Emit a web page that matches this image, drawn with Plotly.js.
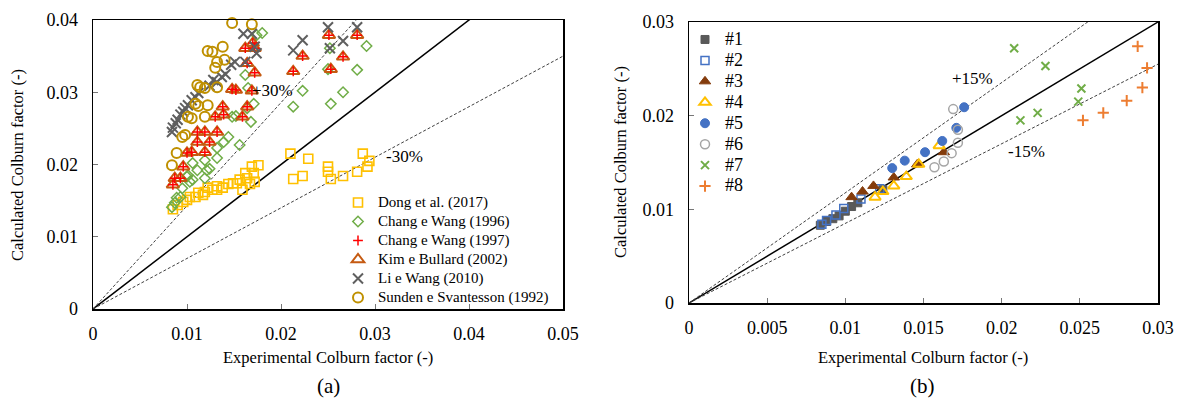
<!DOCTYPE html>
<html><head><meta charset="utf-8">
<script src="https://cdn.plot.ly/plotly-3.0.1.min.js"></script>
<style>html,body{margin:0;padding:0;background:#fff}#chart{width:1179px;height:401px}</style>
</head><body><div id="chart"></div>
<script>
// ---------- Panel (a) data ----------
const dongX = [0.0085,0.0090,0.0096,0.0100,0.0103,0.0109,0.0112,0.0117,0.0119,0.0122,0.0127,0.0132,0.0132,0.0138,0.0144,0.0149,0.0153,0.0156,0.0159,0.0162,0.0164,0.0167,0.0169,0.0171,0.0172,0.0176,0.0210,0.0213,0.0223,0.0229,0.0250,0.0250,0.0253,0.0266,0.0281,0.0287,0.0294,0.0292];
const dongY = [0.0138,0.0144,0.0148,0.0151,0.0155,0.0155,0.0161,0.0158,0.0162,0.0168,0.0165,0.0165,0.0170,0.0168,0.0173,0.0174,0.0174,0.0179,0.0165,0.0188,0.0181,0.0173,0.0197,0.0188,0.0176,0.0199,0.0215,0.0180,0.0184,0.0208,0.0197,0.0190,0.0180,0.0184,0.0190,0.0215,0.0205,0.0197];
const chang96X = [0.0084,0.0087,0.0089,0.0093,0.0095,0.0100,0.0101,0.0103,0.0106,0.0106,0.0111,0.0119,0.0119,0.0121,0.0124,0.0132,0.0132,0.0139,0.0144,0.0148,0.0152,0.0156,0.0164,0.0168,0.0171,0.0162,0.0165,0.0180,0.0174,0.0213,0.0223,0.0250,0.0252,0.0253,0.0266,0.0281,0.0291];
const chang96Y = [0.0141,0.0147,0.0154,0.0155,0.0167,0.0183,0.0185,0.0176,0.0179,0.0202,0.0192,0.0206,0.0181,0.0192,0.0194,0.0223,0.0209,0.0231,0.0238,0.0266,0.0267,0.0227,0.0278,0.0259,0.0284,0.0324,0.0306,0.0382,0.0379,0.0280,0.0302,0.0332,0.0361,0.0284,0.0300,0.0331,0.0364];
const chang97X = [0.0085,0.0087,0.0093,0.0096,0.0100,0.0105,0.0111,0.0111,0.0119,0.0119,0.0124,0.0132,0.0130,0.0139,0.0138,0.0148,0.0152,0.0159,0.0164,0.0169,0.0164,0.0172,0.0162,0.0170,0.0172,0.0213,0.0223,0.0251,0.0253,0.0266,0.0281];
const chang97Y = [0.0172,0.0181,0.0181,0.0197,0.0216,0.0217,0.0245,0.0231,0.0245,0.0217,0.0231,0.0245,0.0266,0.0269,0.0280,0.0304,0.0303,0.0266,0.0280,0.0302,0.0340,0.0327,0.0361,0.0368,0.0361,0.0329,0.0350,0.0379,0.0332,0.0349,0.0379];
const kimX = [0.0085,0.0087,0.0093,0.0096,0.0100,0.0105,0.0111,0.0111,0.0119,0.0119,0.0124,0.0132,0.0130,0.0139,0.0138,0.0148,0.0152,0.0159,0.0164,0.0169,0.0164,0.0172,0.0162,0.0170,0.0172,0.0213,0.0223,0.0251,0.0253,0.0266,0.0281];
const kimY = [0.0172,0.0181,0.0181,0.0197,0.0216,0.0217,0.0245,0.0231,0.0245,0.0217,0.0231,0.0245,0.0266,0.0269,0.0280,0.0304,0.0303,0.0266,0.0280,0.0302,0.0340,0.0327,0.0361,0.0368,0.0361,0.0329,0.0350,0.0379,0.0332,0.0349,0.0379];
const liX = [0.0084,0.0085,0.0088,0.0090,0.0093,0.0096,0.0098,0.0101,0.0105,0.0109,0.0112,0.0124,0.0128,0.0132,0.0137,0.0141,0.0147,0.0151,0.0162,0.0160,0.0169,0.0172,0.0174,0.0213,0.0223,0.0250,0.0252,0.0266,0.0281];
const liY = [0.0245,0.0251,0.0257,0.0262,0.0269,0.0273,0.0278,0.0282,0.0289,0.0293,0.0299,0.0309,0.0317,0.0314,0.0321,0.0325,0.0338,0.0342,0.0342,0.0381,0.0381,0.0363,0.0354,0.0358,0.0372,0.0390,0.0361,0.0371,0.0390];
const sundenX = [0.0084,0.0089,0.0095,0.0098,0.0101,0.0105,0.0109,0.0112,0.0119,0.0122,0.0111,0.0114,0.0119,0.0132,0.0130,0.0132,0.0140,0.0122,0.0127,0.0138,0.0148,0.0169];
const sundenY = [0.0199,0.0216,0.0238,0.0241,0.0266,0.0264,0.0284,0.0281,0.0266,0.0282,0.0310,0.0307,0.0306,0.0307,0.0334,0.0342,0.0345,0.0357,0.0356,0.0363,0.0396,0.0394];

// ---------- Panel (b) data ----------
const c1X = [0.0084,0.0088,0.0092,0.0096,0.0100,0.0104,0.0108,0.0124];
const c1Y = [0.0083,0.0087,0.0090,0.0093,0.0098,0.0103,0.0107,0.0121];
const c2X = [0.0085,0.0088,0.0094,0.0099,0.0110,0.0122];
const c2Y = [0.0084,0.0088,0.0094,0.0101,0.0111,0.0122];
const c3X = [0.0104,0.0111,0.0118,0.0131,0.0146,0.0163];
const c3Y = [0.0113,0.0119,0.0125,0.0134,0.0148,0.0161];
const c4X = [0.0119,0.0124,0.0131,0.0139,0.0147,0.0160];
const c4Y = [0.0113,0.0119,0.0125,0.0135,0.0148,0.0168];
const c5X = [0.0130,0.0138,0.0151,0.0162,0.0171,0.0176];
const c5Y = [0.0144,0.0152,0.0161,0.0173,0.0187,0.0209];
const c6X = [0.0157,0.0163,0.0168,0.0172,0.0172,0.0169];
const c6Y = [0.0145,0.0151,0.0160,0.0171,0.0185,0.0207];
const c7X = [0.0208,0.0228,0.0251,0.0249,0.0223,0.0212];
const c7Y = [0.0272,0.0253,0.0229,0.0215,0.0203,0.0195];
const c8X = [0.0287,0.0293,0.0290,0.0280,0.0265,0.0252];
const c8Y = [0.0274,0.0251,0.0230,0.0216,0.0203,0.0195];

// reference lines (y = k * x)
const refAX = [0, 0.05];
const refAK = [1, 1/0.7, 0.7];
const refBX = [0, 0.03];
const refBK = [1, 1/0.85, 0.85];

const W = 1179, H = 401;
const px = v => v / W, py = v => 1 - v / H;
const FONT = 'Liberation Serif, Times New Roman, serif';

function refLines(xs, ks, xa, ya) {
  return ks.map((k, i) => ({
    type: 'scatter', mode: 'lines', x: xs, y: xs.map(v => v * k),
    xaxis: xa, yaxis: ya, showlegend: false, hoverinfo: 'skip',
    line: i === 0 ? {color: '#000', width: 1.5} : {color: '#404040', width: 1, dash: '3px,2px'}
  }));
}
function pts(x, y, name, symbol, color, size, lw, xa, ya, legend, rank) {
  return {
    type: 'scatter', mode: 'markers', x, y, name, xaxis: xa, yaxis: ya,
    legend, legendrank: rank, cliponaxis: false,
    marker: {symbol, size, color: color, line: {color: color, width: lw}}
  };
}
const LA = s => '<span style="font-size:15px">' + s + '</span>';
const LB = s => '<span style="font-size:18px">' + s + '</span>';

const data = [
  ...refLines(refAX, refAK, 'x', 'y'),
  ...refLines(refBX, refBK, 'x2', 'y2'),
  pts(dongX, dongY, LA('Dong et al. (2017)'), 'square-open', '#FFC000', 9, 1.6, 'x', 'y', 'legend', 1),
  pts(chang96X, chang96Y, LA('Chang e Wang (1996)'), 'diamond-open', '#70AD47', 8, 1.5, 'x', 'y', 'legend', 2),
  pts(kimX, kimY, LA('Kim e Bullard (2002)'), 'triangle-up-open', '#C55A11', 11, 2, 'x', 'y', 'legend', 4),
  pts(chang97X, chang97Y, LA('Chang e Wang (1997)'), 'cross-thin-open', '#FF0000', 7, 1.5, 'x', 'y', 'legend', 3),
  pts(liX, liY, LA('Li e Wang (2010)'), 'x-thin-open', '#5F5F5F', 10, 2, 'x', 'y', 'legend', 5),
  pts(sundenX, sundenY, LA('Sunden e Svantesson (1992)'), 'circle-open', '#BF9000', 10, 2, 'x', 'y', 'legend', 6),
  pts(c1X, c1Y, LB('#1'), 'square', '#595959', 8, 1, 'x2', 'y2', 'legend2', 1),
  pts(c2X, c2Y, LB('#2'), 'square-open', '#4472C4', 8, 1.5, 'x2', 'y2', 'legend2', 2),
  pts(c3X, c3Y, LB('#3'), 'triangle-up', '#843C0C', 10, 1, 'x2', 'y2', 'legend2', 3),
  pts(c4X, c4Y, LB('#4'), 'triangle-up-open', '#FFC000', 10, 2, 'x2', 'y2', 'legend2', 4),
  pts(c5X, c5Y, LB('#5'), 'circle', '#4472C4', 9, 1, 'x2', 'y2', 'legend2', 5),
  pts(c6X, c6Y, LB('#6'), 'circle-open', '#A5A5A5', 9, 1.5, 'x2', 'y2', 'legend2', 6),
  pts(c7X, c7Y, LB('#7'), 'x-thin-open', '#70AD47', 8, 2, 'x2', 'y2', 'legend2', 7),
  pts(c8X, c8Y, LB('#8'), 'cross-thin-open', '#ED7D31', 8, 2, 'x2', 'y2', 'legend2', 8)
];

const axisBase = {
  showgrid: false, zeroline: false, showline: true, mirror: true,
  linecolor: '#000', linewidth: 1.5, ticks: 'inside', ticklen: 5, tickwidth: 1, tickcolor: '#777',
  tickfont: {family: FONT, size: 18, color: '#000'}, fixedrange: true
};

const layout = {
  width: W, height: H, margin: {l: 0, r: 0, t: 0, b: 0},
  paper_bgcolor: '#fff', plot_bgcolor: '#fff',
  font: {family: FONT, color: '#000'},
  xaxis: Object.assign({}, axisBase, {domain: [px(93), px(563)], range: [0, 0.05], dtick: 0.01, anchor: 'y', ticklabelstandoff: 8}),
  yaxis: Object.assign({}, axisBase, {domain: [py(309), py(20)], range: [0, 0.04], dtick: 0.01, anchor: 'x', ticklabelstandoff: 10}),
  xaxis2: Object.assign({}, axisBase, {domain: [px(689), px(1158)], range: [0, 0.03], dtick: 0.005, anchor: 'y2', ticklabelstandoff: 8}),
  yaxis2: Object.assign({}, axisBase, {domain: [py(303), py(22)], range: [0, 0.03], dtick: 0.01, anchor: 'x2', ticklabelstandoff: 10}),
  legend: {x: px(338), y: py(188), xanchor: 'left', yanchor: 'top', bgcolor: 'rgba(0,0,0,0)',
           font: {family: FONT, size: 11, color: '#000'}, itemwidth: 30, tracegroupgap: 0},
  legend2: {x: px(685), y: py(24), xanchor: 'left', yanchor: 'top', bgcolor: 'rgba(0,0,0,0)',
            font: {family: FONT, size: 13.8, color: '#000'}, itemwidth: 30, tracegroupgap: 0},
  annotations: [
    {text: 'Calculated Colburn factor (-)', x: px(17), y: py(165), textangle: -90},
    {text: 'Calculated Colburn factor (-)', x: px(621), y: py(162), textangle: -90},
    {text: 'Experimental Colburn factor (-)', x: px(328), y: py(357)},
    {text: 'Experimental Colburn factor (-)', x: px(923), y: py(357)},
    {text: '(a)', x: px(328), y: py(386), size: 21},
    {text: '(b)', x: px(923), y: py(386), size: 21},
    {text: '+30%', x: px(272), y: py(90), size: 17},
    {text: '-30%', x: px(404), y: py(156), size: 17},
    {text: '+15%', x: px(972), y: py(78), size: 17},
    {text: '-15%', x: px(1026), y: py(152), size: 17}
  ].map(a => ({
    text: a.text, x: a.x, y: a.y, xref: 'paper', yref: 'paper', xanchor: 'center', yanchor: 'middle',
    showarrow: false, textangle: a.textangle || 0,
    font: {family: FONT, size: a.size || 16.5, color: '#000'}
  }))
};

Plotly.newPlot('chart', data, layout, {displayModeBar: false, staticPlot: true});
</script>
</body></html>
